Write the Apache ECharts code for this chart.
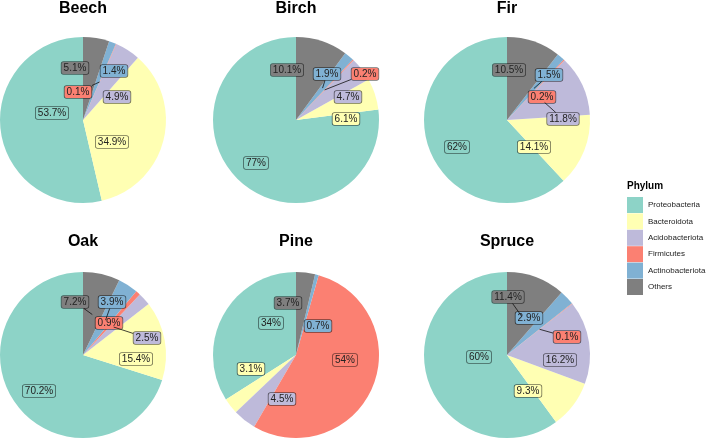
<!DOCTYPE html>
<html>
<head>
<meta charset="utf-8">
<script src="https://cdn.jsdelivr.net/npm/echarts@6/dist/echarts.min.js"></script>
<style>
html,body{margin:0;padding:0;background:#fff;}
#chart{width:708px;height:438px;}
</style>
</head>
<body>
<div id="chart"></div>
<script>
// ---- data ----
var phyla = ['Proteobacteria','Bacteroidota','Acidobacteriota','Firmicutes','Actinobacteriota','Others'];
var sites = ['Beech','Birch','Fir','Oak','Pine','Spruce'];
var beech  = [53.7, 34.9, 4.9, 0.1, 1.4, 5.1];
var birch  = [77, 6.1, 4.7, 0.2, 1.9, 10.1];
var fir    = [62, 14.1, 11.8, 0.2, 1.5, 10.5];
var oak    = [70.2, 15.4, 2.5, 0.9, 3.9, 7.2];
var pine   = [34, 3.1, 4.5, 54, 0.7, 3.7];
var spruce = [60, 9.3, 16.2, 0.1, 2.9, 11.4];
var values = [beech, birch, fir, oak, pine, spruce];

// ---- styling / layout (not data) ----
var colors = ['#8DD3C7','#FFFFB3','#BEBADA','#FB8072','#80B1D3','#7F7F7F'];
var centers = [[83,120],[296,120],[507,120],[83,355],[296,355],[507,355]];
var radius = 83;
var labelFont = '10px "Liberation Sans"';
// repelled label nudges relative to pie centre (px)
var nudgeX = [
  [-31, 29, 34, -5, 31, -8],
  [-40, 50, 52, 69, 31, -9],
  [-50, 27, 56, 35, 42, 2],
  [-44, 53, 64, 26, 29, -8],
  [-25, -45, -14, 49, 22, -8],
  [-28, 21, 53, 60, 22, 1]
];
var nudgeY = [
  [-7, 22, -23, -28, -49, -52],
  [43, -1, -23, -46, -46, -50],
  [27, 27, -1, -23, -45, -50],
  [36, 4, -17, -32, -53, -53],
  [-32, 14, 44, 5, -29, -52],
  [2, 36, 5, -18, -37, -58]
];
// which repelled labels get a leader segment back to their slice
var leader = [
  [0,0,0,1,0,0],
  [0,0,0,1,1,0],
  [0,0,1,0,1,0],
  [0,0,1,0,1,1],
  [0,0,0,0,0,0],
  [0,0,0,1,0,1]
];

var chart = echarts.init(document.getElementById('chart'), null, {renderer:'canvas'});
var measureCtx = document.createElement('canvas').getContext('2d');
measureCtx.font = labelFont;

function fmt(v){ return v + '%'; }

// anchor of a slice: on its bisector at half radius (pie drawn counter-clockwise from top in data order)
function anchorOf(vals, i, c){
  var total = 0, before = 0;
  vals.forEach(function(v, k){ total += v; if (k < i) before += v; });
  var frac = (before + vals[i] / 2) / total;
  var th = -frac * 2 * Math.PI;
  return [c[0] + radius * 0.5 * Math.sin(th), c[1] - radius * 0.5 * Math.cos(th)];
}

var titles = [];
var series = [];
var segments = [];
sites.forEach(function(site, s){
  var c = centers[s];
  titles.push({
    text: site,
    left: c[0],
    top: c[1] < 200 ? 1 : 234,
    padding: 0,
    textAlign: 'center',
    textStyle: {fontFamily:'Liberation Sans', fontWeight:'bold', fontSize:16, color:'#000'}
  });
  series.push({
    type: 'pie',
    name: site,
    center: c,
    radius: radius,
    startAngle: 90,
    clockwise: false,
    animation: false,
    silent: true,
    z: 2,
    avoidLabelOverlap: false,
    minShowLabelAngle: 0,
    itemStyle: {borderWidth: 0},
    label: {
      show: true,
      position: 'inside',
      formatter: function(p){ return fmt(p.value); },
      fontFamily: 'Liberation Sans',
      fontSize: 10,
      lineHeight: 11,
      color: '#222',
      padding: [1, 2, 0, 2],
      borderColor: 'rgba(0,0,0,0.55)',
      borderWidth: 0.8,
      borderRadius: 2
    },
    labelLine: {show: false},
    labelLayout: function(p){
      return {
        x: c[0] + nudgeX[s][p.dataIndex],
        y: c[1] + nudgeY[s][p.dataIndex],
        align: 'center',
        verticalAlign: 'middle'
      };
    },
    data: phyla.map(function(name, i){
      if (leader[s][i]) segments.push([s, i]);
      return {
        name: name,
        value: values[s][i],
        itemStyle: {color: colors[i]},
        label: {backgroundColor: colors[i]}
      };
    })
  });
});

// leader segments: from label box edge to the slice anchor
series.push({
  type: 'custom',
  coordinateSystem: 'none',
  silent: true,
  animation: false,
  z: 5,
  data: segments,
  renderItem: function(params, api){
    var s = api.value(0), i = api.value(1);
    var c = centers[s];
    var lx = c[0] + nudgeX[s][i], ly = c[1] + nudgeY[s][i];
    var a = anchorOf(values[s], i, c);
    var hw = (measureCtx.measureText(fmt(values[s][i])).width + 4) / 2 + 0.5;
    var hh = 6.5;
    var dx = a[0] - lx, dy = a[1] - ly;
    var t = Math.min(dx !== 0 ? hw / Math.abs(dx) : Infinity, dy !== 0 ? hh / Math.abs(dy) : Infinity);
    t = Math.min(t, 1);
    return {
      type: 'line',
      shape: {x1: lx + dx * t, y1: ly + dy * t, x2: a[0], y2: a[1]},
      style: {stroke: '#111', lineWidth: 0.8}
    };
  }
});

titles.push({
  text: 'Phylum',
  left: 627,
  top: 181,
  padding: 0,
  textStyle: {fontFamily:'Liberation Sans', fontWeight:'bold', fontSize:10, color:'#000'}
});

chart.setOption({
  backgroundColor: '#fff',
  animation: false,
  color: colors,
  title: titles,
  legend: {
    orient: 'vertical',
    left: 627,
    top: 197,
    padding: 0,
    data: phyla,
    icon: 'rect',
    itemWidth: 16,
    itemHeight: 16,
    itemGap: 0.4,
    selectedMode: false,
    textStyle: {fontFamily:'Liberation Sans', fontSize:8, color:'#222'}
  },
  series: series
});
</script>
</body>
</html>
